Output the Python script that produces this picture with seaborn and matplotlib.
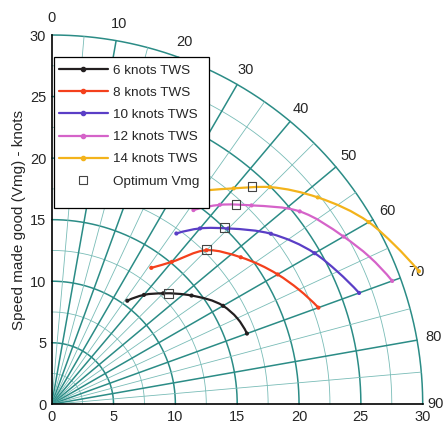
import numpy as np
import pandas as pd
import seaborn as sns
from matplotlib import pyplot as plt
from matplotlib.lines import Line2D
from matplotlib.path import Path
from matplotlib.patches import PathPatch, Rectangle

sns.set_style('white')
plt.rcParams['font.family'] = ['Liberation Sans', 'DejaVu Sans']

## DATA (true wind angle in degrees, boat speed in knots)
twa = [36, 40, 45, 52, 60, 65, 70]
marked = [True, True, True, True, True, False, True]
series_names = ["6 knots TWS", "8 knots TWS", "10 knots TWS", "12 knots TWS", "14 knots TWS"]
bsp_6 = [10.4, 11.6, 12.75, 14.35, 16.0, 16.55, 16.8]
bsp_8 = [13.7, 15.1, 17.7, 19.4, 21.1, 22.05, 22.95]
bsp_10 = [17.15, 18.65, 20.2, 22.5, 24.55, 25.5, 26.45]
bsp_12 = [19.5, 21.15, 22.85, 25.45, 27.25, 28.35, 29.3]
bsp_14 = [21.5, 22.9, 24.95, 27.3, 29.6, 30.6, 31.6]
opt_twa = [46.3, 44.8, 44.2, 42.5, 42.5]
opt_bsp = [13.05, 17.75, 20.0, 22.05, 23.97]
angle_labels = [0, 10, 20, 30, 40, 50, 60, 70, 80, 90]
ticks = [0, 5, 10, 15, 20, 25, 30]

colors = ['#231f20', '#f4401c', '#5a3ec6', '#d563c9', '#f3b31b']

## building the dataframe in x / y (x = speed across, y = Vmg)
rows = []
for name, bsp in zip(series_names, [bsp_6, bsp_8, bsp_10, bsp_12, bsp_14]):
    for a, v, m in zip(twa, bsp, marked):
        rows.append({'tws': name, 'twa': a, 'bsp': v, 'marked': m})
df = pd.DataFrame(rows)
df['x'] = df['bsp'] * np.sin(np.radians(df['twa']))
df['y'] = df['bsp'] * np.cos(np.radians(df['twa']))
opt = pd.DataFrame({'tws': series_names, 'twa': opt_twa, 'bsp': opt_bsp})
opt['x'] = opt['bsp'] * np.sin(np.radians(opt['twa']))
opt['y'] = opt['bsp'] * np.cos(np.radians(opt['twa']))


def smooth_path(x, y):
    '''smoothed line through the points (bezier segments, chord-length tangents)'''
    p = np.column_stack([x, y])
    n = len(p)
    h = np.linalg.norm(np.diff(p, axis=0), axis=1)
    d = np.diff(p, axis=0) / h[:, None]
    m = np.zeros_like(p)
    for i in range(1, n - 1):
        m[i] = (d[i - 1] * h[i] + d[i] * h[i - 1]) / (h[i - 1] + h[i])
    m[0] = 2 * d[0] - m[1]
    m[-1] = 2 * d[-1] - m[-2]
    verts, codes = [p[0]], [Path.MOVETO]
    for i in range(n - 1):
        verts += [p[i] + m[i] * h[i] / 3, p[i + 1] - m[i + 1] * h[i] / 3, p[i + 1]]
        codes += [Path.CURVE4] * 3
    return Path(verts, codes)


fig = plt.figure(figsize=(4.45, 4.29), dpi=100)
ax = fig.add_axes([0.1162, 0.0576, 0.8337, 0.8608])
ax.set_xlim(0, 30)
ax.set_ylim(0, 30)

## polar grid
thick = '#2b8c86'
thin = '#79bcb7'
t = np.linspace(0, np.pi / 2, 200)
for r in np.arange(2.5, 30.1, 2.5):
    major = (r % 5 == 0)
    ax.plot(r * np.sin(t), r * np.cos(t), color=thick if major else thin,
            lw=1.1 if major else 0.6, zorder=1, clip_on=False)
for deg in range(5, 90, 5):
    major = (deg % 10 == 0)
    a = np.radians(deg)
    ax.plot([0, 30 * np.sin(a)], [0, 30 * np.cos(a)], color=thick if major else thin,
            lw=1.1 if major else 0.6, zorder=1)
for deg in angle_labels:
    a = np.radians(deg)
    rr = 31.0 if deg == 90 else 31.35
    ax.text(rr * np.sin(a), rr * np.cos(a), str(deg), ha='center', va='center',
            fontsize=10.5, clip_on=False)

## curves
for name, c in zip(series_names, colors):
    d = df[df['tws'] == name]
    ax.add_patch(PathPatch(smooth_path(d['x'].values, d['y'].values), fill=False,
                           edgecolor=c, lw=1.6, zorder=3))
sns.scatterplot(data=df[df['marked']], x='x', y='y', hue='tws', palette=colors,
                s=9, linewidth=0, legend=False, ax=ax, zorder=4)
ax.scatter(opt['x'], opt['y'], marker='s', s=40, facecolors='none',
           edgecolors='#444444', linewidths=0.8, zorder=5)

## axes
ax.set_xticks(ticks)
ax.set_yticks(ticks)
ax.tick_params(length=0, labelsize=10.5, pad=4)
for s in ['top', 'right']:
    ax.spines[s].set_visible(False)
for s in ['left', 'bottom']:
    ax.spines[s].set_color('black')
    ax.spines[s].set_linewidth(1.2)
    ax.spines[s].set_zorder(6)
ax.set_xlabel('')
ax.set_ylabel('Speed made good (Vmg) - knots', fontsize=11, labelpad=3)

## legend (box drawn separately)
box = Rectangle((54 / 445, 1 - 208 / 429), 155 / 445, 151 / 429, transform=fig.transFigure,
                facecolor='white', edgecolor='black', lw=0.9, zorder=9)
fig.patches.append(box)
handles = [Line2D([], [], color=c, lw=1.6, marker='o', ms=3) for c in colors]
handles.append(Line2D([], [], ls='none', marker='s', ms=6, mfc='none', mec='#444444', mew=0.8))
leg = fig.legend(handles, series_names + ['Optimum Vmg'], loc='upper left',
                 bbox_to_anchor=(59 / 445, 1 - 64.5 / 429), borderaxespad=0, borderpad=0,
                 fontsize=9.7, handlelength=3.6, handletextpad=0.4, labelspacing=0.72,
                 frameon=False)
leg.set_zorder(10)

plt.savefig('out.png', dpi=100)
